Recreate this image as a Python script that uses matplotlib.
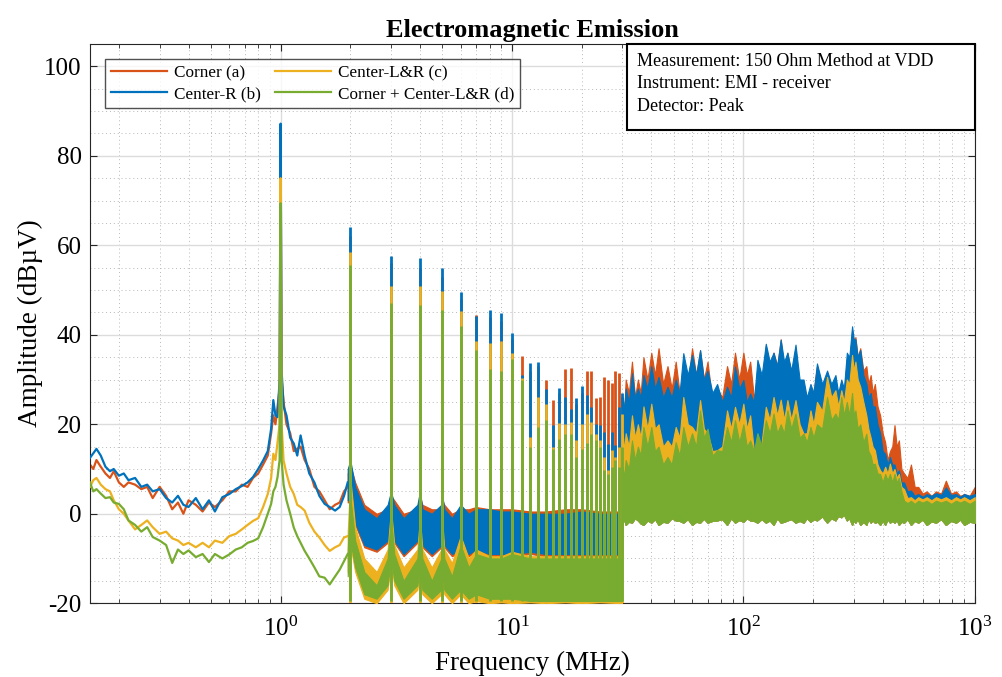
import numpy as np
import matplotlib
matplotlib.use("Agg")
import matplotlib.pyplot as plt
from matplotlib.patches import Rectangle
from matplotlib.ticker import MultipleLocator, LogLocator, NullFormatter

# ---- data (MHz, dBuV) ----
labels = ["Corner (a)", "Center-R (b)", "Center-L&R (c)", "Corner + Center-L&R (d)"]

# low band: single traces 0.15 .. 1.95 MHz (includes the 1 MHz fundamental)
f1 = [0.15, 0.155, 0.16, 0.167, 0.175, 0.183, 0.19, 0.2, 0.21, 0.22, 0.235, 0.25, 0.265, 0.28,
      0.3, 0.32, 0.34, 0.36, 0.38, 0.4, 0.43, 0.46, 0.49, 0.52, 0.56, 0.6, 0.64, 0.68, 0.72,
      0.76, 0.8, 0.84, 0.88, 0.91, 0.93, 0.95, 0.97, 0.99, 1.0, 1.01, 1.03, 1.06, 1.1, 1.14,
      1.18, 1.22, 1.27, 1.33, 1.4, 1.47, 1.55, 1.63, 1.72, 1.8, 1.88, 1.95]
a_low = [11, 10, 12, 10.5, 9, 8, 9.5, 7, 6, 7, 6.5, 5.5, 6, 3.5, 6, 4, 1, 2.5, 0, 3, 2, 0.5,
         2.5, 1.5, 3, 5, 5, 6.5, 6, 8, 9, 11, 13, 18, 22, 20, 24, 28, 84, 30, 25, 20, 18, 14,
         14.5, 15, 12, 10, 6, 5, 3, 1, 2, 2.5, 5, 6]
b_low = [12.5, 13.5, 14.5, 13, 10.5, 9.5, 10, 8.5, 9, 7.5, 8, 6, 6.5, 5, 5.5, 3.5, 2.5, 4, 2,
         1.5, 3.5, 1, 3, 0.5, 3.7, 4.4, 5.5, 6.2, 7, 8.2, 10, 11.9, 14, 19, 25.4, 22, 21.6, 30,
         87.2, 32, 24, 22, 17, 15.7, 13, 17.5, 13, 9, 7, 4, 2.2, 1.5, 0.7, 1.5, 4, 7]
c_low = [6, 7.5, 8, 6.5, 5.5, 5, 3, 1, 0, -1.5, -3.5, -2.5, -1.5, -3, -4.5, -4, -5.5, -6, -7,
         -6.5, -7.5, -6.5, -7.5, -6, -6.5, -5, -4.5, -3.5, -2.5, -1.6, -1, 1.5, 4.4, 8, 13.4,
         12, 16, 20, 75, 20, 11.9, 9, 6, 4.4, 2, 1.5, 0.7, -2, -4, -5.3, -7, -8.3, -7.5, -7,
         -5.3, -5]
d_low = [7, 5, 5.5, 4.5, 3.5, 3.7, 2.5, 2.2, 1, -1.5, -2.5, -4, -3, -5.2, -6, -7, -11, -8, -9,
         -8.2, -9.7, -9, -10.8, -9, -10, -9.1, -8, -7.5, -6.5, -6.1, -5.5, -3, 0, 2.2, 5, 6,
         8.2, 12, 69.4, 12, 6.5, 3, 0, -3.1, -5, -6.5, -8.3, -10, -12, -14, -14.3, -15.8, -14,
         -12.5, -10.6, -9]

# mid band 1.95 .. 30 MHz: dense noise floor, upper / lower edges
f2 = [1.95, 2.0, 2.1, 2.3, 2.6, 2.9, 3.0, 3.1, 3.4, 3.9, 4.0, 4.1, 4.5, 4.95, 5.0, 5.1, 5.5,
      6.0, 6.5, 7.0, 8.0, 9.0, 10.0, 12.0, 14.0, 17.0, 20.0, 24.0, 29.9]
a_hi2 = [9, 11, 7, 2, 0, 1, 4, 3, 0, 1, 4, 2, 1, 1, 3, 2, 0, 1, 1, 1.5, 1, 1, 1, 0.5, 0.5, 1,
         1, 0.5, 0.5]
a_lo2 = [2.5, 4.5, -2.5, -7.5, -8.5, -6.5, -3.5, -6.5, -9.5, -6.5, -4.5, -7.5, -9.5, -7.5,
         -5.5, -7.5, -9.5, -8.5, -9.5, -8.5, -9.5, -9.5, -9.5, -9, -9.5, -9.5, -9.5, -9.5, -9.5]
b_hi2 = [10, 12, 6, 1, -1, 2, 5, 2, -1, 2, 5, 1, 0, 2, 4, 1, -1, 2, 0, 1, 1, 0.5, 0.5, 0, 0, 0,
         0.5, 0, 0]
b_lo2 = [3, 5, -2, -7, -8, -6, -3, -6, -9, -6, -4, -7, -9, -7, -5, -7, -9, -8, -9, -8, -9, -9,
         -9, -8.5, -9, -9, -9, -9, -9]
c_hi2 = [-4, 8, -3, -10, -13, -8, 1, -7, -12, -8, -1, -8, -12, -8, -2, -8, -11, -5, -10, -8,
         -9.5, -9.5, -8.5, -9.5, -9.5, -9.5, -9.5, -9.5, -9.5]
c_lo2 = [-13, -7, -13, -19, -20, -17, -11, -16, -20, -17, -13, -18, -20, -18, -14, -18, -20,
         -18, -20, -19.5, -20, -19.8, -20, -19.8, -20, -19.8, -20, -19.8, -20]
d_hi2 = [-8, 4, -6, -13, -16, -10, -1, -9, -15, -10, -3, -10, -15, -10, -4, -10, -14, -7, -12,
         -9, -10, -10, -9, -10, -10, -10, -10, -10, -10]
d_lo2 = [-14, -6, -12, -18, -19, -16, -10, -15, -19, -16, -12, -17, -19, -17, -13, -17, -19,
         -17, -19, -18, -19, -19, -19, -19.5, -19.5, -19.5, -19.5, -19.5, -19.5]

# harmonic peaks 2 .. 30 MHz
harm_f = list(range(2, 31))
a_pk = [62, 56, 55, 53, 48, 44.4, 44, 43, 39, 35.3, 32, 33, 30, 25.5, 27, 32.3, 32.5, 24.5, 27,
        32, 31.8, 25.8, 26.1, 30.5, 29.9, 29.3, 31.8, 31.5, 26]
b_pk = [64, 57.6, 57.1, 55, 49.6, 44.1, 45.5, 44.9, 40.3, 31, 33.6, 34, 27.8, 19.8, 28.2, 26.1,
        23.5, 25.8, 28.5, 26.5, 23.9, 20.1, 19.8, 18.3, 15.5, 18.3, 15.3, 23.9, 27]
c_pk = [58.6, 51, 51, 49.7, 45.4, 38.7, 38.1, 38.6, 35.9, 30.3, 17.2, 26.1, 24.6, 14.9, 20.3,
        20.1, 20.5, 16.4, 20, 22.4, 20.5, 17.9, 16.4, 12.7, 9.7, 14.2, 12.7, 14.9, 22.4]
d_pk = [55.7, 47.1, 46.7, 45.6, 41.9, 36.6, 32.4, 31.8, 34.6, 29.9, 14.9, 19.4, 20.9, 14.5,
        16.8, 17.9, 17.9, 12.7, 14.5, 15.7, 17.9, 16.4, 15, 9.7, 8.9, 10.4, 12, 10.4, 15]

# high band 30 .. 1000 MHz: upper envelope per series, shared lower edge
f3 = [30.1, 30.5, 31, 32, 33, 34, 35, 36, 37, 38.5,
      40, 41.5, 43, 45, 47, 49, 51, 53, 55, 57.5,
      60, 62.5, 65, 67.5, 70, 73.5, 77, 81, 85, 88.5,
      92, 96, 100, 103.5, 107, 111, 115, 120, 125, 130,
      135, 140, 145, 150, 155, 161, 168, 175, 182, 188,
      195, 201, 208, 219, 230, 240, 250, 257, 265, 272,
      280, 287, 295, 300, 305, 312, 320, 330, 340, 347,
      355, 362, 370, 380, 390, 400, 410, 420, 430, 440,
      450, 460, 470, 482, 495, 512, 530, 550, 570, 595,
      620, 650, 680, 715, 750, 790, 830, 865, 900, 950,
      1000]
a_hi3 = [26, 22, 30, 27, 34, 26, 30, 27, 35, 30,
         36, 31, 37, 29, 33, 28, 34, 27, 31, 29,
         37, 31, 36.5, 30, 34, 25, 28, 26, 33, 29,
         36, 30, 36, 31, 34, 26, 29, 27, 37.5, 32,
         36, 33, 39, 32, 36, 31, 37, 27, 29, 25,
         28, 27, 33, 28, 31.5, 27, 30, 26, 29.5, 27,
         34.5, 33, 41, 38, 39.5, 35, 37, 32, 33, 29,
         31, 27, 29, 24, 22, 18, 16, 12, 14, 15,
         19.8, 15, 16.4, 10, 9, 8, 11, 6, 6, 4.5,
         5, 4, 5, 4.5, 7.4, 4.5, 5, 4, 4.4, 4,
         6]
b_hi3 = [26, 23, 28, 25, 31.4, 26, 28, 26, 31, 28,
         33, 28, 30.6, 26, 28.4, 26, 30, 27, 35.9, 31,
         35.5, 31, 36.6, 30, 32, 27, 29, 25, 28.4, 26,
         32.9, 28, 29.9, 25, 26.9, 25, 34.4, 31, 38, 34,
         36, 33, 38.9, 34, 36, 32, 37.8, 30, 30, 26,
         29, 27, 33.6, 29, 32, 29, 31, 27, 30, 28,
         36, 35, 41.9, 39, 39, 35, 36.6, 31, 29.1, 26,
         27, 24, 24, 20, 18, 14, 13.4, 11, 12.7, 11,
         11, 9, 9.7, 7, 7, 5, 5.2, 4, 4.4, 3.8,
         4.4, 4, 4.6, 4.2, 5.9, 4.2, 4.4, 3.8, 4.4, 4,
         4.4]
c_hi3 = [18, 14, 18, 15, 22, 17, 20, 17, 24, 19,
         24.6, 19, 20, 15, 16.4, 15, 19.4, 17, 26.1, 20,
         19.4, 18, 25.4, 19, 18, 14, 14.2, 15, 23.1, 19,
         23.9, 20, 24.6, 19, 22, 14, 10.4, 16, 23.9, 21,
         26.1, 22, 25.5, 21, 25.4, 21, 25.4, 20, 17.9, 18,
         23.1, 20, 25, 23, 30.6, 26, 27.6, 24, 27.6, 25,
         30, 29, 35.5, 32, 34, 30, 28.4, 25, 22, 19,
         17, 15, 14.2, 11, 9.7, 9, 10.5, 9, 11.2, 9,
         10, 8, 8.9, 6, 5.5, 3.5, 3.7, 3, 3.7, 3.2,
         3.7, 3, 3.7, 3.2, 3.7, 3, 3.7, 3.2, 3.7, 3,
         3.7]
d_hi3 = [10.4, 8, 12, 10, 16.4, 12, 15, 13, 19.4, 15,
         19.4, 14, 15, 11, 12.7, 11, 16, 13, 19.4, 15,
         18, 15, 23.1, 17, 19, 13, 14.2, 14, 19.4, 16,
         20.9, 16, 20, 15, 16.4, 14, 18, 15, 20.9, 18,
         22.4, 18, 20, 18, 23.1, 19, 22.4, 17, 17.9, 16,
         19.4, 17, 20, 19, 26.1, 21, 22.4, 21, 26.1, 22,
         25, 22, 27, 22, 23.1, 19, 20, 16, 17.9, 14,
         13, 11, 11.2, 9, 8.9, 7, 8.9, 7.5, 8.9, 7,
         8.9, 7, 8, 5, 2.9, 2.4, 2.9, 2.2, 2.9, 2.5,
         2.9, 2.2, 2.9, 2.5, 2.9, 2.2, 2.9, 2.5, 2.9, 2.2,
         2.9]
lo3 = [-2, -1.2, -2.5, -1.8, -2, -1.0, -1.5, -2.2, -2.5, -1.5,
       -2, -1.2, -2.5, -1.8, -2, -1.0, -1.5, -1.6, -2, -1.2,
       -2.5, -1.8, -2, -1.1, -2, -1.6, -1.5, -1.2, -2.5, -1.0,
       -2, -1.4, -1.8, -1.0, -1.5, -1.6, -2, -1.2, -2, -1.5,
       -2.5, -1.0, -2, -1.8, -1.5, -1.2, -2, -1.6, -2, -1.0,
       -1.8, -1.2, -1.5, -0.6, -2, -1.0, -1.5, -0.5, -0.8, -0.2,
       -1.5, -1.0, -2.5, -1.5, -2, -1.2, -2.5, -1.8, -2.5, -1.2,
       -2, -1.5, -2, -1.8, -2.5, -1.5, -2.5, -1.2, -2, -1.6,
       -2, -1.4, -2.5, -1.8, -2, -1.2, -2.5, -1.6, -2, -1.3,
       -2.5, -1.7, -2, -1.2, -2.5, -1.6, -2, -1.3, -2.5, -1.8,
       -2]

info_lines = ["Measurement: 150 Ohm Method at VDD",
              "Instrument: EMI - receiver",
              "Detector: Peak"]

colors = ["#D95319", "#0072BD", "#EDB120", "#77AC30"]

plt.rcParams['font.family'] = ['Liberation Serif', 'DejaVu Serif']
plt.rcParams['mathtext.fontset'] = 'stix'
plt.rcParams['axes.unicode_minus'] = False

fig = plt.figure(figsize=(10.02, 6.77), dpi=100)
ax = fig.add_axes([0.0898, 0.109, 0.883, 0.826])

series = [
    (a_low, a_hi2, a_lo2, a_pk, a_hi3),
    (b_low, b_hi2, b_lo2, b_pk, b_hi3),
    (c_low, c_hi2, c_lo2, c_pk, c_hi3),
    (d_low, d_hi2, d_lo2, d_pk, d_hi3),
]

handles = []
for i, (low, hi2, lo2, pk, hi3) in enumerate(series):
    col = colors[i]
    z = 2 + i
    h, = ax.plot(f1, low, color=col, lw=1.6, zorder=z, label=labels[i])
    ax.fill_between(f2, lo2, hi2, color=col, lw=0.8, zorder=z)
    ax.vlines(harm_f, min(lo2), pk, color=col, lw=2.0, zorder=z)
    ax.fill_between(f3, lo3, hi3, color=col, lw=0.8, zorder=z)
    handles.append(h)

ax.set_xscale('log')
ax.set_xlim(0.15, 1000)
ax.set_ylim(-20, 105)
ax.set_yticks(np.arange(-20, 101, 20))
ax.yaxis.set_minor_locator(MultipleLocator(5))
ax.xaxis.set_minor_locator(LogLocator(base=10, subs=np.arange(2, 10)))
ax.xaxis.set_minor_formatter(NullFormatter())

ax.set_axisbelow(True)
ax.grid(which='major', color='#dcdcdc', lw=1.0, ls='-')
ax.grid(which='minor', color='#b8b8b8', lw=0.7, ls=(0, (1, 3)))

ax.tick_params(which='major', direction='in', top=True, right=True, length=5, width=0.8,
               labelsize=18, color='#262626')
ax.tick_params(axis='y', which='major', pad=6)
ax.tick_params(axis='x', which='major', pad=10)
ax.tick_params(axis='x', which='minor', direction='in', top=True, length=3, width=0.6,
               color='#262626')
ax.tick_params(axis='y', which='minor', length=0)
for sp in ax.spines.values():
    sp.set_color('#262626')
    sp.set_linewidth(0.8)

ax.set_title("Electromagnetic Emission", fontsize=19, fontweight='bold', pad=5)
ax.set_xlabel("Frequency (MHz)", fontsize=19.5, labelpad=7)
ax.set_ylabel("Amplitude (dBµV)", fontsize=19.5, labelpad=1)

leg = ax.legend(handles=handles, ncol=2, loc='upper left', bbox_to_anchor=(0.017, 0.973),
                fontsize=12.3, frameon=True, fancybox=False, edgecolor='#262626',
                handlelength=3.3, handletextpad=0.4, columnspacing=0.8, labelspacing=0.3,
                borderpad=0.35, borderaxespad=0)
leg.get_frame().set_linewidth(1.0)
leg.set_zorder(10)

box = Rectangle((0.607, 0.846), 0.393, 0.154, transform=ax.transAxes, facecolor='white',
                edgecolor='black', lw=1.5, zorder=10, clip_on=False)
ax.add_patch(box)
for k, line in enumerate(info_lines):
    ax.text(0.618, 0.968 - k * 0.0395, line, transform=ax.transAxes, fontsize=13,
            va='center', ha='left', zorder=11)

fig.savefig("out.png", dpi=100)
